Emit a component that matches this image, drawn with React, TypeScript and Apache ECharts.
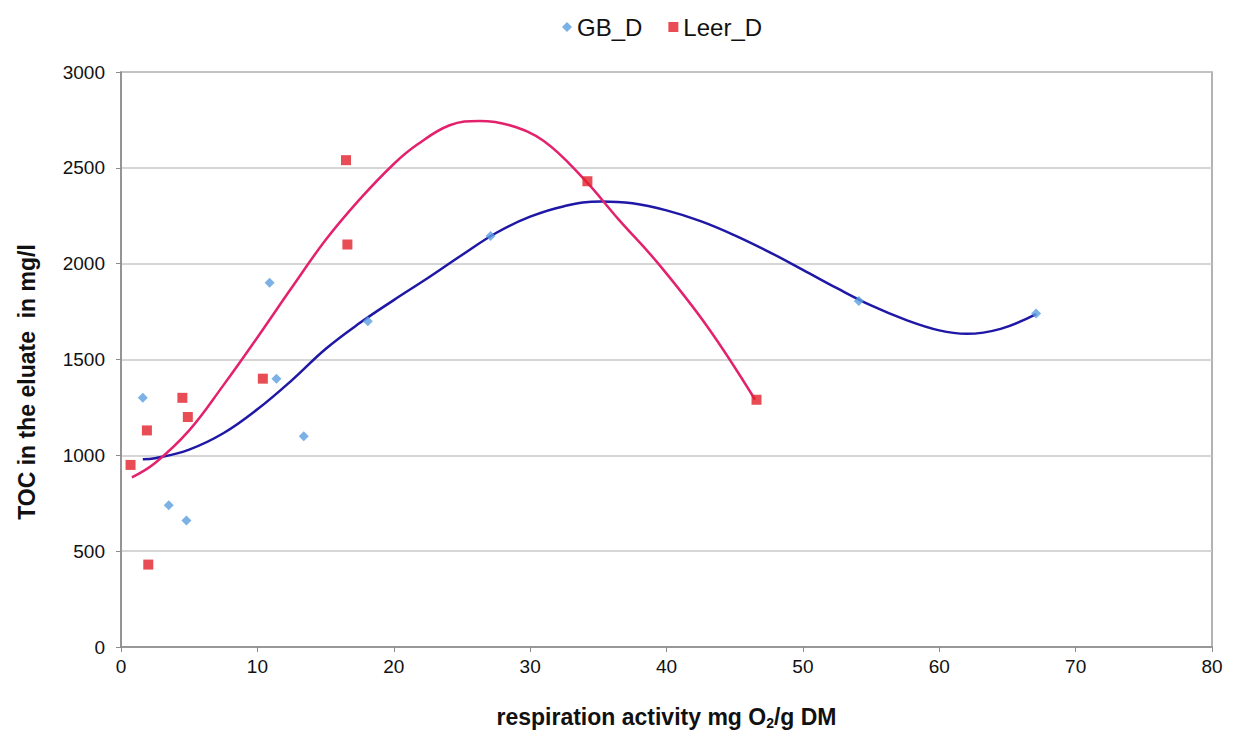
import React, { useEffect, useRef } from "react";
import * as echarts from "echarts";

// Scatter data (respiration activity, TOC)
const gbX = [1.6, 3.5, 4.8, 10.9, 11.4, 13.4, 18.1, 27.1, 54.1, 67.1];
const gbY = [1300, 740, 660, 1900, 1400, 1100, 1700, 2145, 1805, 1740];

const leerX = [0.7, 1.9, 2.0, 4.5, 4.9, 10.4, 16.5, 16.6, 34.2, 46.6];
const leerY = [950, 1130, 430, 1300, 1200, 1400, 2540, 2100, 2430, 1290];

// Trendlines
const gbTrendX = [1.6, 2.5, 5, 7.5, 10, 12.5, 15, 17.5, 20, 22.5, 25, 27.5, 30, 32.5, 35.2, 37.5, 40, 42.5, 45, 47.5, 50, 52.5, 55, 57.5, 60, 62, 64.5, 67.1];
const gbTrendY = [979, 985, 1030, 1115, 1240, 1390, 1555, 1690, 1810, 1925, 2045, 2160, 2245, 2300, 2325, 2315, 2278, 2222, 2148, 2062, 1968, 1872, 1782, 1708, 1652, 1634, 1660, 1737];

const leerTrendX = [0.8, 2.5, 5, 7.5, 10, 12.5, 15, 17.5, 20, 21.7, 24.1, 26.3, 28.5, 31, 33.9, 36.5, 39.4, 43, 46.5];
const leerTrendY = [885, 960, 1130, 1365, 1615, 1873, 2123, 2335, 2520, 2620, 2722, 2745, 2722, 2640, 2445, 2230, 2000, 1671, 1290];

const xTicks = [0, 10, 20, 30, 40, 50, 60, 70, 80];
const yTicks = [0, 500, 1000, 1500, 2000, 2500, 3000];

const FONT = "Arial, 'Liberation Sans', sans-serif";

export default function App() {
  const ref = useRef<HTMLDivElement>(null);
  useEffect(() => {
    if (!ref.current) return;
    const chart = echarts.init(ref.current, null, { renderer: "svg" });
    const zip = (xs: number[], ys: number[]) => xs.map((x, i) => [x, ys[i]]);
    chart.setOption({
      animation: false,
      backgroundColor: "#ffffff",
      textStyle: { fontFamily: FONT },
      legend: {
        top: 10,
        left: 557,
        itemWidth: 10,
        itemHeight: 10,
        itemGap: 26,
        textStyle: { fontSize: 24, color: "#111", fontFamily: FONT },
        data: [
          { name: "GB_D", icon: "diamond" },
          { name: "Leer_D", icon: "rect" },
        ],
      },
      grid: {
        left: 121,
        right: 22,
        top: 72,
        bottom: 92,
        show: true,
        borderColor: "#9a9a9a",
        borderWidth: 1.5,
        backgroundColor: "transparent",
      },
      xAxis: {
        type: "value",
        min: xTicks[0],
        max: xTicks[xTicks.length - 1],
        interval: 10,
        name: "{b|respiration activity mg O}{s|2}{b|/g DM}",
        nameLocation: "middle",
        nameGap: 57,
        nameTextStyle: {
          rich: {
            b: { fontSize: 23, fontWeight: "bold", color: "#111", fontFamily: FONT },
            s: { fontSize: 14, fontWeight: "bold", color: "#111", fontFamily: FONT, padding: [12, 0, 0, 0] },
          },
        },
        axisLine: { show: true, lineStyle: { color: "#8a8a8a", width: 1.5 } },
        axisTick: { show: true, inside: false, length: 5, lineStyle: { color: "#8a8a8a" } },
        axisLabel: { fontSize: 19, color: "#111", margin: 10, fontFamily: FONT },
        splitLine: { show: false },
      },
      yAxis: {
        type: "value",
        min: yTicks[0],
        max: yTicks[yTicks.length - 1],
        interval: 500,
        name: "TOC in the eluate  in mg/l",
        nameLocation: "middle",
        nameGap: 83,
        nameRotate: 90,
        nameTextStyle: {
          fontSize: 23,
          fontWeight: "bold",
          color: "#111",
          fontFamily: FONT,
          padding: [0, 45, 0, 0],
        },
        axisLine: { show: true, lineStyle: { color: "#8a8a8a", width: 1.5 } },
        axisTick: { show: true, inside: false, length: 5, lineStyle: { color: "#8a8a8a" } },
        axisLabel: {
          fontSize: 19,
          color: "#111",
          margin: 16,
          fontFamily: FONT,
          formatter: (v: number) => String(v),
        },
        splitLine: { show: true, lineStyle: { color: "#c8c8c8", width: 1.5 } },
      },
      series: [
        {
          name: "GB_D trend",
          type: "line",
          data: zip(gbTrendX, gbTrendY),
          smooth: 0.4,
          showSymbol: false,
          lineStyle: { color: "#1f17a6", width: 2.5 },
          z: 2,
        },
        {
          name: "Leer_D trend",
          type: "line",
          data: zip(leerTrendX, leerTrendY),
          smooth: 0.4,
          showSymbol: false,
          lineStyle: { color: "#e3216d", width: 2.5 },
          z: 2,
        },
        {
          name: "GB_D",
          type: "scatter",
          data: zip(gbX, gbY),
          symbol: "diamond",
          symbolSize: 10,
          itemStyle: { color: "#5b9ee0" },
          z: 3,
        },
        {
          name: "Leer_D",
          type: "scatter",
          data: zip(leerX, leerY),
          symbol: "rect",
          symbolSize: 10,
          itemStyle: { color: "#e2202c" },
          z: 4,
        },
      ],
    });
    return () => chart.dispose();
  }, []);
  return (
    <div
      ref={ref}
      style={{ position: "fixed", left: 0, top: 0, width: 1234, height: 739, background: "#fff" }}
    />
  );
}
